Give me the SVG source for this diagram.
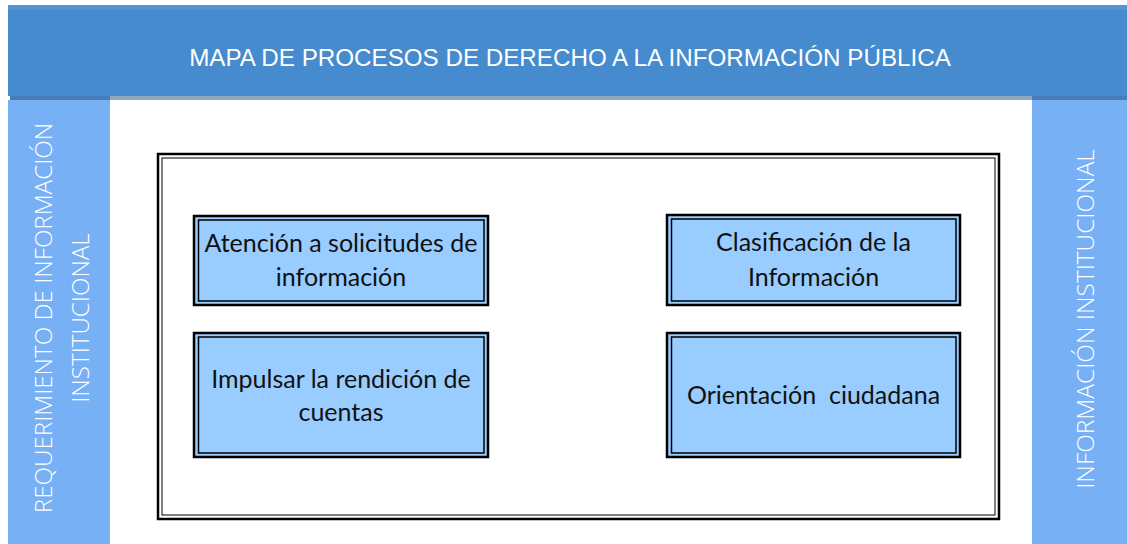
<svg xmlns="http://www.w3.org/2000/svg" width="1127" height="544" viewBox="0 0 1127 544">
<style>
.side{fill:#78B0F5}
.vt{font-family:"Open Sans","Liberation Sans",sans-serif;font-weight:300;font-size:24.2px;fill:#FFFFFF;text-anchor:middle}
.box{fill:#99CCFF;stroke:#000;stroke-width:2.5}
.inner{fill:none;stroke:#000;stroke-width:1.5}
.bt{font-family:"Lato","Liberation Sans",sans-serif;font-size:25px;fill:#111;text-anchor:middle}
</style>
<rect width="1127" height="544" fill="#FFFFFF"/>
<g id="header">
<rect x="8" y="5" width="1119" height="91" fill="#468BCD"/>
<rect x="8" y="5" width="1119" height="5" fill="#5791D6"/>
<rect x="10" y="96" width="100" height="4" fill="#4A7DB8"/>
<rect x="110" y="96" width="922" height="4" fill="#8FA8BF"/>
<rect x="1032" y="96" width="95" height="4" fill="#4A7DB8"/>
<text x="570" y="66" font-family="Liberation Sans, Arial, sans-serif" font-size="24.2" fill="#FFFFFF" text-anchor="middle">MAPA DE PROCESOS DE DERECHO A LA INFORMACIÓN PÚBLICA</text>
</g>
<g id="left-bar">
<rect class="side" x="8" y="100" width="102" height="444"/>
<text class="vt" transform="translate(52,318) rotate(-90)">REQUERIMIENTO DE INFORMACIÓN</text>
<text class="vt" transform="translate(89,318) rotate(-90)">INSTITUCIONAL</text>
</g>
<g id="right-bar">
<rect class="side" x="1032" y="100" width="95" height="444"/>
<text class="vt" style="font-size:24.4px" transform="translate(1094,319) rotate(-90)">INFORMACIÓN INSTITUCIONAL</text>
</g>
<g id="frame">
<rect x="158" y="154" width="841" height="365" fill="#FFFFFF" stroke="#000" stroke-width="2.5"/>
<rect x="162" y="158" width="833" height="357" fill="none" stroke="#000" stroke-width="1"/>
</g>
<g id="atencion">
<rect class="box" x="194" y="216" width="294" height="89"/>
<rect class="inner" x="198.5" y="220" width="285.5" height="81"/>
<text class="bt" x="341" y="252">Atención a solicitudes de</text>
<text class="bt" x="341" y="286">información</text>
</g>
<g id="clasificacion">
<rect class="box" x="667" y="215" width="293" height="90"/>
<rect class="inner" x="671.5" y="219" width="284.5" height="82"/>
<text class="bt" x="813.5" y="251">Clasificación de la</text>
<text class="bt" x="813.5" y="286">Información</text>
</g>
<g id="rendicion">
<rect class="box" x="194" y="333" width="294" height="124"/>
<rect class="inner" x="198.5" y="337" width="285.5" height="116"/>
<text class="bt" x="341" y="388">Impulsar la rendición de</text>
<text class="bt" x="341" y="421">cuentas</text>
</g>
<g id="orientacion">
<rect class="box" x="667" y="333" width="293" height="124"/>
<rect class="inner" x="671.5" y="337" width="284.5" height="116"/>
<text class="bt" x="813.5" y="404" xml:space="preserve">Orientación  ciudadana</text>
</g>
<g id="connectors"/>
</svg>
